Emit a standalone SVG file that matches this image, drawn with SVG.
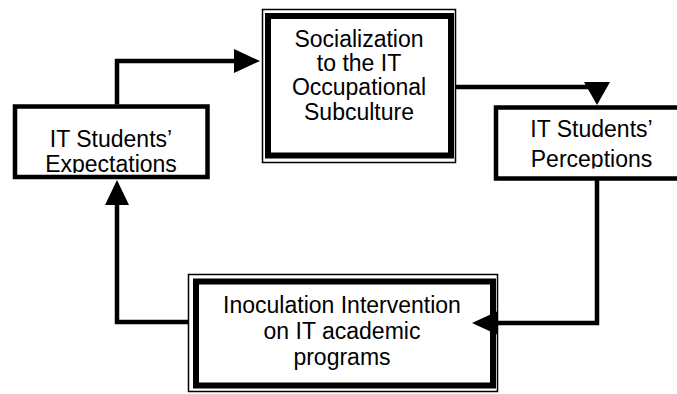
<svg xmlns="http://www.w3.org/2000/svg" width="677" height="394" viewBox="0 0 677 394">
<style>
.t{font-family:"Liberation Sans",Arial,sans-serif;font-size:23px;fill:#000;text-anchor:middle}
.box{fill:none;stroke:#000;stroke-width:4.5}
.thin{fill:none;stroke:#000;stroke-width:1.5}
.thick{fill:none;stroke:#000;stroke-width:6}
.c{fill:none;stroke:#000;stroke-width:4.5;stroke-linejoin:miter}
</style>
<defs>
<clipPath id="clipL"><rect x="17" y="109" width="188" height="64"/></clipPath>
<clipPath id="clipR"><rect x="498" y="110" width="190" height="58.5"/></clipPath>
</defs>
<rect width="677" height="394" fill="#fff"/>
<g id="socialization">
<rect x="262.5" y="9.5" width="193" height="153" fill="#fff" class="thin"/>
<rect x="268" y="16" width="183" height="139.5" class="thick" stroke-width="5.5"/>
<text class="t" x="359" y="47">Socialization</text>
<text class="t" x="359" y="71">to the IT</text>
<text class="t" x="359" y="95">Occupational</text>
<text class="t" x="359" y="120">Subculture</text>
</g>
<g id="expectations">
<rect x="15" y="106.5" width="192.5" height="70.5" fill="#fff"/>
<g clip-path="url(#clipL)">
<text class="t" x="111" y="147">IT Students’</text>
<text class="t" x="111" y="172">Expectations</text>
</g>
<rect x="15" y="106.5" width="192.5" height="70.5" class="box"/>
</g>
<g id="perceptions">
<rect x="496" y="107.5" width="192" height="71" fill="#fff"/>
<g clip-path="url(#clipR)">
<text class="t" x="591.5" y="137">IT Students’</text>
<text class="t" x="591.5" y="167">Perceptions</text>
</g>
<rect x="496" y="107.5" width="192" height="71" class="box"/>
</g>
<g id="inoculation">
<rect x="188.5" y="274.5" width="309" height="117" fill="#fff" class="thin"/>
<rect x="196" y="281.5" width="297" height="104" class="thick"/>
<text class="t" x="342" y="313">Inoculation Intervention</text>
<text class="t" x="342" y="339">on IT academic</text>
<text class="t" x="342" y="365">programs</text>
</g>
<g id="connectors">
<polyline class="c" points="117,104.5 117,61 236,61"/>
<polygon points="234,49 260,61 234,73"/>
<polyline class="c" points="455.5,87 597,87 597,84"/>
<polygon points="584,82 610,82 597,105"/>
<polyline class="c" points="597,180 597,323 496,323"/>
<polygon points="498,311 498,335 472,323"/>
<polyline class="c" points="188,322 117,322 117,203"/>
<polygon points="105,205 129,205 117,180"/>
</g>
</svg>
